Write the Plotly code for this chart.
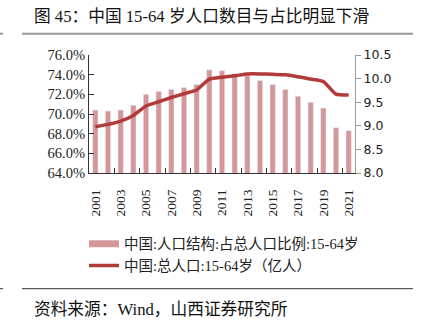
import plotly.graph_objects as go

years = list(range(2001, 2022))
share_pct = [70.4, 70.3, 70.4, 70.9, 72.0, 72.3, 72.5, 72.7, 73.0, 74.5, 74.4,
             74.1, 73.9, 73.4, 73.0, 72.5, 71.8, 71.2, 70.6, 68.6, 68.3]
pop_100m = [8.98, 9.03, 9.10, 9.22, 9.42, 9.51, 9.60, 9.68, 9.76, 9.99, 10.03,
            10.06, 10.10, 10.10, 10.09, 10.08, 10.04, 9.99, 9.94, 9.67, 9.65]
left_ticks = [64, 66, 68, 70, 72, 74, 76]
right_ticks = [8.0, 8.5, 9.0, 9.5, 10.0, 10.5]
label_years = [y for y in years if y % 2 == 1]
boundary_ticks = [y + 0.5 for y in years if y % 2 == 0]

name_bar = "中国:人口结构:占总人口比例:15-64岁"
name_line = "中国:总人口:15-64岁（亿人）"
title_text = "图 45：中国 15-64 岁人口数目与占比明显下滑"
source_text = "资料来源：Wind，山西证券研究所"

BAR_C = "#D39798"
LINE_C = "#B23A3A"
SERIF = "Liberation Serif, Noto Sans CJK SC, serif"

W, H = 422, 328
L, R, T, B = 89, 355, 55.3, 173.3

def px_x(px):
    return (px - L) / (R - L)

def px_y(py):
    return (B - py) / (B - T)

fig = go.Figure()
fig.add_trace(go.Bar(x=years, y=share_pct, marker_color=BAR_C, width=0.42,
                     name=name_bar, showlegend=False, xaxis="x", yaxis="y"))
# legend-only entry to mimic the wide bar swatch
fig.add_trace(go.Scatter(x=[years[0]], y=[share_pct[0]], mode="lines", name=name_bar,
                         line=dict(color=BAR_C, width=7), xaxis="x", yaxis="y",
                         hoverinfo="skip"))
fig.add_trace(go.Scatter(x=years, y=pop_100m, mode="lines", name=name_line,
                         line=dict(color=LINE_C, width=3.5, shape="spline", smoothing=0.5),
                         xaxis="x", yaxis="y2"))

fig.update_layout(
    width=W, height=H,
    margin=dict(l=L, r=W - R, t=T, b=H - B, pad=0),
    plot_bgcolor="white", paper_bgcolor="white",
    xaxis=dict(type="linear", range=[2000.5, 2021.5], tickmode="array", tickvals=label_years,
               ticktext=[str(y) for y in label_years], tickangle=-90,
               ticks="", showline=True, linecolor="#333", linewidth=1,
               showgrid=False, zeroline=False, ticklabelstandoff=10,
               tickfont=dict(family=SERIF, size=13.5, color="#222")),
    xaxis2=dict(type="linear", range=[2000.5, 2021.5], overlaying="x", side="bottom",
                anchor="y", tickmode="array", tickvals=boundary_ticks,
                showticklabels=False, ticks="inside", ticklen=5, tickcolor="#333",
                showline=False, showgrid=False, zeroline=False),
    yaxis=dict(type="linear", range=[64, 76], tickmode="array", tickvals=left_ticks,
               ticktext=[f"{v:.1f}%" for v in left_ticks],
               ticks="inside", ticklen=5, tickcolor="#333",
               showline=True, linecolor="#333", linewidth=1.2,
               showgrid=False, zeroline=False,
               tickfont=dict(family=SERIF, size=14.5, color="#222")),
    yaxis2=dict(type="linear", range=[8, 10.5], tickmode="array", tickvals=right_ticks,
                ticktext=[f"{v:.1f}" for v in right_ticks],
                overlaying="y", side="right", anchor="x",
                ticks="outside", ticklen=5, tickcolor="#999",
                showline=True, linecolor="#999", linewidth=1.2,
                showgrid=False, zeroline=False,
                tickfont=dict(family="DejaVu Sans, sans-serif", size=12.5, color="#222")),
    legend=dict(x=px_x(84), y=px_y(228),
                xanchor="left", yanchor="top", bgcolor="rgba(0,0,0,0)",
                font=dict(family=SERIF, size=14.5, color="#222"),
                tracegroupgap=0),
    showlegend=True,
)
# invisible helper trace to activate the boundary-tick axis
fig.add_trace(go.Scatter(x=[years[0]], y=[share_pct[0]], xaxis="x2", yaxis="y",
                         mode="markers", marker=dict(opacity=0), showlegend=False,
                         hoverinfo="skip"))

fig.add_annotation(text=title_text, xref="paper", yref="paper",
                   x=px_x(32), y=px_y(17), xanchor="left", yanchor="middle",
                   showarrow=False, font=dict(family=SERIF, size=16.7, color="#111"))
fig.add_annotation(text=source_text, xref="paper", yref="paper",
                   x=px_x(32), y=px_y(310), xanchor="left", yanchor="middle",
                   showarrow=False, font=dict(family=SERIF, size=16.7, color="#111"))
for y0, c, w in [(34, "#999", 2), (289, "#333", 1)]:
    fig.add_shape(type="line", xref="paper", yref="paper",
                  x0=px_x(22), x1=px_x(413), y0=px_y(y0), y1=px_y(y0),
                  line=dict(color=c, width=w))
    fig.add_shape(type="line", xref="paper", yref="paper",
                  x0=px_x(0), x1=px_x(3), y0=px_y(y0), y1=px_y(y0),
                  line=dict(color=c, width=w))

fig.write_html("out.html")
